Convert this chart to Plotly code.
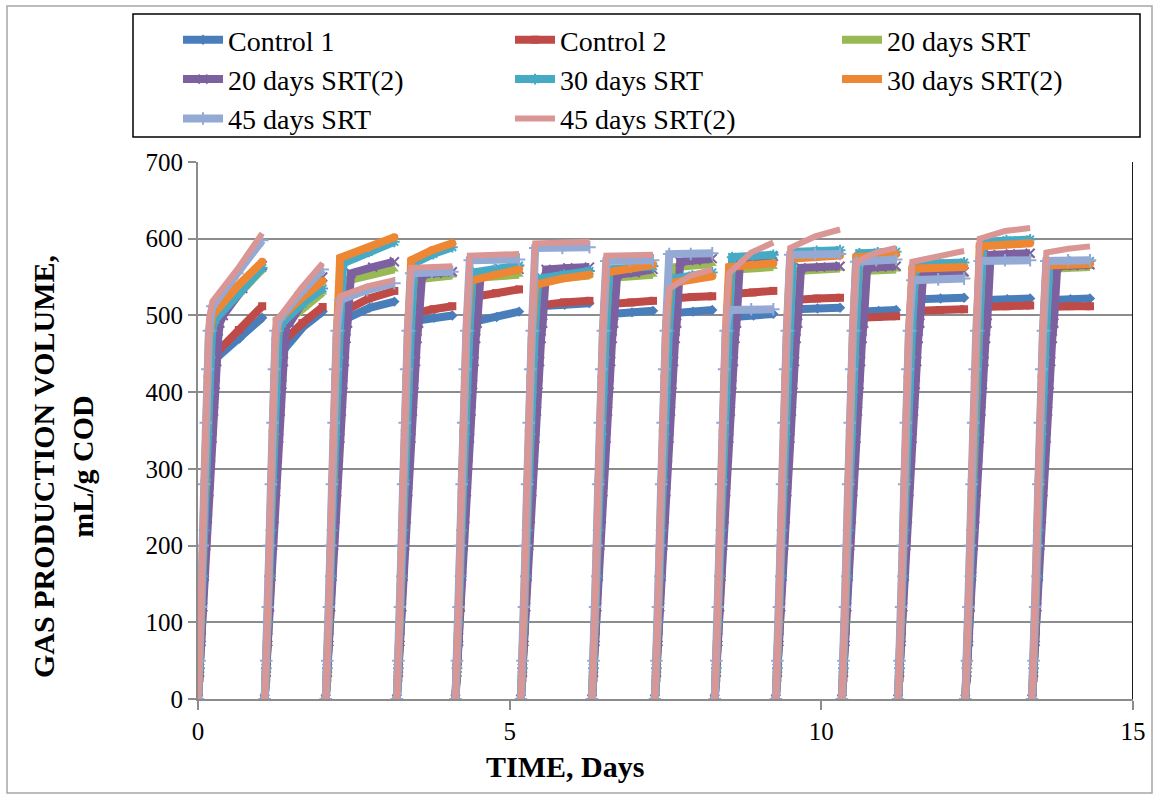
import plotly.graph_objects as go

W, H = 1158, 799
# plot-area edges in pixels (left, right, top, bottom)
PL, PR, PT, PB = 198, 1133, 162, 699

SERIES = ["Control 1", "Control 2", "20 days SRT", "20 days SRT(2)",
          "30 days SRT", "30 days SRT(2)", "45 days SRT", "45 days SRT(2)"]
COLORS = ["#4A7EBB", "#BE4B48", "#98B954", "#7D60A0",
          "#46AAC5", "#EE8734", "#94AAD4", "#D99694"]
SYMBOLS = ["diamond", "square", "triangle-up", "x-thin",
           "asterisk", "circle", "cross-thin", None]

# batch cycles (days): feeding time and last reading of each cycle
CYCLE_START = [0.00, 1.07, 2.05, 3.19, 4.13, 5.18, 6.32, 7.33, 8.29, 9.27, 10.33, 11.23, 12.31, 13.38]
CYCLE_END = [1.03, 2.00, 3.15, 4.08, 5.15, 6.28, 7.30, 8.25, 9.23, 10.30, 11.20, 12.29, 13.35, 14.31]
RISE_STEP = 0.025  # days between readings during the start-up of a cycle

# start-up readings (mL/g COD) of every cycle, per reactor
rise_control1 = [0, 30, 70, 115, 160, 210, 260, 310, 360, 400, 430]
rise_control2 = [0, 27, 80, 133, 185, 240, 295, 350, 400, 440]
rise_srt20 = [0, 35, 75, 120, 165, 215, 265, 315, 365, 410, 450, 480]
rise_srt20b = [0, 40, 80, 120, 160, 200, 235, 270, 305, 340, 375, 410, 440, 470, 490]
rise_srt30 = [0, 40, 100, 160, 220, 285, 345, 400, 445, 480]
rise_srt30b = [0, 40, 110, 190, 270, 350, 420, 470]
rise_srt45 = [0, 50, 120, 200, 280, 360, 430, 480]
rise_srt45b = [0, 60, 130, 210, 300, 380, 450, 495]

# plateau of each cycle: (after start-up, middle of cycle, end of cycle)
plateau_control1 = [(445, 470, 497), (455, 485, 505), (495, 510, 518), (493, 497, 500),
                    (492, 498, 505), (512, 514, 516), (502, 504, 506), (503, 505, 507),
                    (498, 500, 502), (508, 509, 510), (505, 506, 507), (521, 522, 523),
                    (520, 521, 522), (520, 521, 522)]
plateau_control2 = [(450, 481, 512), (465, 490, 511), (505, 522, 532), (503, 508, 512),
                    (524, 529, 534), (513, 517, 519), (515, 517, 519), (522, 524, 525),
                    (528, 530, 532), (520, 522, 523), (497, 498, 499), (506, 507, 508),
                    (511, 512, 513), (511, 512, 512)]
plateau_srt20 = [(495, 530, 560), (490, 510, 530), (545, 553, 560), (547, 550, 552),
                 (549, 551, 553), (546, 549, 552), (549, 551, 553), (563, 565, 567),
                 (560, 562, 563), (558, 560, 561), (558, 559, 560), (550, 552, 553),
                 (577, 578, 578), (561, 562, 563)]
plateau_srt20b = [(500, 535, 565), (490, 525, 550), (555, 563, 570), (553, 555, 557),
                  (555, 557, 560), (560, 562, 563), (553, 556, 560), (570, 572, 574),
                  (572, 575, 577), (562, 563, 564), (562, 563, 564), (555, 556, 557),
                  (579, 580, 581), (564, 565, 566)]
plateau_srt30 = [(495, 530, 562), (490, 515, 535), (568, 583, 596), (568, 580, 589),
                 (556, 560, 565), (548, 553, 558), (560, 562, 564), (548, 552, 556),
                 (576, 578, 579), (583, 584, 585), (581, 582, 583), (567, 568, 569),
                 (596, 598, 599), (569, 570, 571)]
plateau_srt30b = [(500, 538, 570), (495, 522, 545), (575, 588, 602), (572, 585, 594),
                  (545, 553, 560), (540, 548, 553), (556, 561, 566), (542, 547, 551),
                  (563, 566, 568), (574, 576, 578), (576, 578, 580), (561, 562, 563),
                  (590, 592, 594), (565, 566, 567)]
plateau_srt45 = [(512, 555, 598), (495, 530, 560), (520, 533, 542), (555, 556, 557),
                 (572, 572, 573), (588, 588, 589), (571, 572, 572), (580, 580, 581),
                 (507, 508, 508), (579, 580, 580), (570, 572, 573), (546, 547, 548),
                 (571, 572, 572), (571, 572, 572)]
plateau_srt45b = [(518, 560, 607), (497, 535, 568), (525, 538, 546), (562, 563, 564),
                  (578, 579, 580), (594, 595, 596), (578, 578, 579), (535, 552, 560),
                  (555, 582, 595), (588, 603, 612), (570, 582, 588), (570, 578, 584),
                  (600, 610, 614), (582, 587, 590)]

RISES = [rise_control1, rise_control2, rise_srt20, rise_srt20b,
         rise_srt30, rise_srt30b, rise_srt45, rise_srt45b]
PLATEAUS = [plateau_control1, plateau_control2, plateau_srt20, plateau_srt20b,
            plateau_srt30, plateau_srt30b, plateau_srt45, plateau_srt45b]

FONT = "Liberation Serif"


def px_x(px):
    return (px - PL) / (PR - PL)


def px_y(py):
    return (PB - py) / (PB - PT)


fig = go.Figure()
legend_ids = ["legend", "legend2", "legend3"]

for i, name in enumerate(SERIES):
    xs, ys = [], []
    rise = RISES[i]
    for k, (t0, te) in enumerate(zip(CYCLE_START, CYCLE_END)):
        for j, v in enumerate(rise):
            xs.append(t0 + j * RISE_STEP)
            ys.append(v)
        tk = t0 + len(rise) * RISE_STEP + 0.03
        knee, mid, end = PLATEAUS[i][k]
        xs += [tk, (tk + te) / 2, te, None]
        ys += [knee, mid, end, None]
    sym = SYMBOLS[i]
    kw = dict(mode="lines")
    if sym is not None:
        thin = sym in ("x-thin", "asterisk", "cross-thin")
        kw = dict(mode="lines+markers",
                  marker=dict(symbol=sym, size=9 if thin else 8, color=COLORS[i],
                              line=dict(color=COLORS[i], width=2 if thin else 0)))
    fig.add_trace(go.Scatter(
        x=xs, y=ys, name=name, connectgaps=False,
        line=dict(color=COLORS[i], width=6 if sym is None else 8),
        legend=legend_ids[i % 3], **kw))

legend_common = dict(xref="container", yref="container", yanchor="top", xanchor="left",
                     font=dict(family=FONT, size=28, color="black"),
                     bgcolor="rgba(0,0,0,0)", borderwidth=0, tracegroupgap=0,
                     itemwidth=40)
text_x = [228, 560, 887]
layout_legends = {}
for n, lid in enumerate(legend_ids):
    layout_legends[lid] = dict(legend_common, x=(text_x[n] - 50) / W, y=1 - 15 / H)

gray = "#8C8C8C"
shapes = [
    # outer chart border
    dict(type="rect", xref="paper", yref="paper",
         x0=px_x(7), x1=px_x(1152), y0=px_y(793), y1=px_y(6),
         line=dict(color="#A6A6A6", width=1.5), layer="below"),
    # legend frame
    dict(type="rect", xref="paper", yref="paper",
         x0=px_x(133), x1=px_x(1140), y0=px_y(137), y1=px_y(14),
         line=dict(color="black", width=1.5), fillcolor="white", layer="below"),
    # right edge of the plot area
    dict(type="line", xref="x", yref="y", x0=15, x1=15, y0=0, y1=700,
         line=dict(color="#1A1A1A", width=2), layer="above"),
]

annotations = [
    dict(text="<b>TIME, Days</b>", xref="paper", yref="paper",
         x=px_x(565), y=px_y(766), xanchor="center", yanchor="middle", showarrow=False,
         font=dict(family=FONT, size=30, color="black")),
    dict(text="<b>GAS PRODUCTION VOLUME,<br>mL/g COD</b>", xref="paper", yref="paper",
         x=px_x(63), y=px_y(467), xanchor="center", yanchor="middle",
         showarrow=False, textangle=-90,
         font=dict(family=FONT, size=30, color="black")),
]

fig.update_layout(
    width=W, height=H,
    margin=dict(l=PL, r=W - PR, t=PT, b=H - PB, autoexpand=False),
    paper_bgcolor="white", plot_bgcolor="white",
    showlegend=True,
    shapes=shapes, annotations=annotations,
    font=dict(family=FONT, color="black"),
    **layout_legends,
)
fig.update_xaxes(range=[0, 15], tickvals=[0, 5, 10, 15], showgrid=False, zeroline=False,
                 showline=True, linecolor=gray, linewidth=2,
                 ticks="outside", ticklen=9, tickcolor=gray, tickwidth=2,
                 tickfont=dict(family=FONT, size=25, color="black"))
fig.update_yaxes(range=[0, 700], dtick=100, showgrid=True, gridcolor=gray, gridwidth=2,
                 zeroline=False, showline=True, linecolor=gray, linewidth=2,
                 ticks="outside", ticklen=8, tickcolor=gray, tickwidth=2,
                 tickfont=dict(family=FONT, size=25, color="black"))

fig.write_html("out.html")
